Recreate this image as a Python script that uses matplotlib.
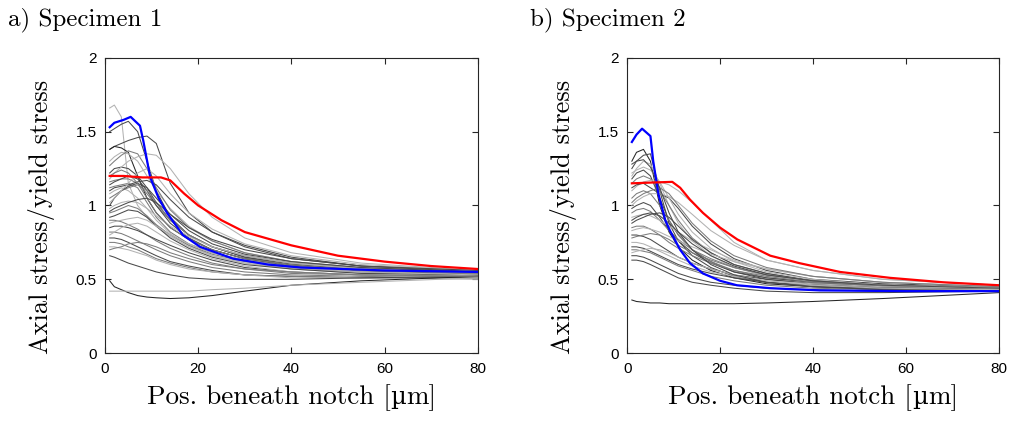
import numpy as np
import matplotlib
matplotlib.use("Agg")
import matplotlib.pyplot as plt
from matplotlib.offsetbox import TextArea, HPacker, AnchoredOffsetbox

# common sample positions for the grey specimen curves [um]
xs = [1, 2, 3.5, 5, 7, 9, 11, 14, 18, 23, 30, 40, 55, 80]

# specimen 1 - individual grain curves
spec1_grey = [
    [1.66, 1.68, 1.60, 1.15, 1.00, 0.92, 0.86, 0.79, 0.72, 0.66, 0.61, 0.57, 0.54, 0.53],
    [1.50, 1.52, 1.55, 1.57, 1.50, 1.30, 1.10, 0.92, 0.80, 0.72, 0.65, 0.60, 0.57, 0.55],
    [1.38, 1.40, 1.42, 1.44, 1.46, 1.47, 1.42, 1.15, 0.95, 0.82, 0.72, 0.64, 0.59, 0.56],
    [1.38, 1.40, 1.39, 1.36, 1.20, 1.05, 0.95, 0.85, 0.77, 0.70, 0.64, 0.60, 0.56, 0.54],
    [1.30, 1.33, 1.36, 1.35, 1.30, 1.20, 1.10, 0.98, 0.86, 0.76, 0.68, 0.62, 0.57, 0.55],
    [1.27, 1.30, 1.34, 1.37, 1.35, 1.25, 1.12, 0.97, 0.85, 0.76, 0.68, 0.62, 0.58, 0.55],
    [1.22, 1.25, 1.26, 1.25, 1.20, 1.12, 1.02, 0.90, 0.80, 0.72, 0.65, 0.60, 0.56, 0.54],
    [1.18, 1.22, 1.26, 1.30, 1.33, 1.35, 1.34, 1.25, 1.08, 0.92, 0.78, 0.68, 0.61, 0.56],
    [1.16, 1.17, 1.18, 1.18, 1.15, 1.08, 1.00, 0.90, 0.80, 0.72, 0.66, 0.61, 0.57, 0.55],
    [1.14, 1.16, 1.18, 1.20, 1.18, 1.10, 1.00, 0.88, 0.78, 0.70, 0.64, 0.59, 0.56, 0.54],
    [1.12, 1.13, 1.14, 1.15, 1.12, 1.02, 0.92, 0.82, 0.74, 0.68, 0.63, 0.59, 0.56, 0.54],
    [1.10, 1.12, 1.13, 1.14, 1.16, 1.17, 1.14, 1.04, 0.92, 0.82, 0.73, 0.65, 0.59, 0.55],
    [1.08, 1.10, 1.12, 1.10, 1.05, 0.98, 0.90, 0.81, 0.73, 0.66, 0.61, 0.57, 0.55, 0.53],
    [1.05, 1.07, 1.10, 1.12, 1.14, 1.10, 1.02, 0.90, 0.80, 0.72, 0.66, 0.61, 0.57, 0.55],
    [1.00, 1.05, 1.10, 1.13, 1.15, 1.12, 1.05, 0.94, 0.83, 0.74, 0.67, 0.62, 0.58, 0.55],
    [0.98, 1.00, 1.02, 1.03, 1.02, 0.98, 0.93, 0.86, 0.79, 0.72, 0.66, 0.61, 0.57, 0.54],
    [0.95, 0.96, 0.98, 1.00, 0.98, 0.93, 0.87, 0.80, 0.73, 0.67, 0.62, 0.58, 0.55, 0.53],
    [0.92, 0.93, 0.95, 0.97, 0.96, 0.92, 0.86, 0.78, 0.71, 0.65, 0.60, 0.57, 0.54, 0.53],
    [0.90, 0.90, 0.89, 0.87, 0.84, 0.80, 0.76, 0.71, 0.66, 0.61, 0.57, 0.54, 0.53, 0.52],
    [0.88, 0.89, 0.90, 0.91, 0.92, 0.90, 0.86, 0.80, 0.74, 0.68, 0.63, 0.58, 0.55, 0.53],
    [0.85, 0.86, 0.86, 0.85, 0.83, 0.80, 0.77, 0.73, 0.68, 0.63, 0.58, 0.55, 0.53, 0.52],
    [0.82, 0.82, 0.81, 0.79, 0.76, 0.73, 0.70, 0.66, 0.62, 0.58, 0.55, 0.53, 0.52, 0.51],
    [0.80, 0.82, 0.85, 0.87, 0.88, 0.86, 0.82, 0.76, 0.70, 0.64, 0.59, 0.55, 0.53, 0.52],
    [0.78, 0.78, 0.77, 0.75, 0.72, 0.69, 0.66, 0.62, 0.59, 0.56, 0.53, 0.52, 0.51, 0.51],
    [0.75, 0.75, 0.74, 0.72, 0.70, 0.67, 0.64, 0.61, 0.58, 0.55, 0.53, 0.52, 0.51, 0.51],
    [0.72, 0.72, 0.71, 0.70, 0.68, 0.66, 0.63, 0.60, 0.57, 0.55, 0.53, 0.51, 0.51, 0.50],
    [0.66, 0.65, 0.63, 0.61, 0.59, 0.57, 0.55, 0.53, 0.51, 0.50, 0.50, 0.50, 0.51, 0.52],
    [0.49, 0.45, 0.43, 0.41, 0.39, 0.38, 0.375, 0.37, 0.375, 0.39, 0.42, 0.46, 0.49, 0.52],
    [0.42, 0.42, 0.42, 0.42, 0.42, 0.42, 0.42, 0.42, 0.42, 0.43, 0.44, 0.46, 0.48, 0.51],
    [1.20, 1.22, 1.24, 1.22, 1.15, 1.05, 0.95, 0.85, 0.77, 0.70, 0.64, 0.60, 0.56, 0.54],
    [1.02, 1.05, 1.10, 1.15, 1.22, 1.25, 1.20, 1.08, 0.95, 0.84, 0.74, 0.66, 0.60, 0.56],
    [0.96, 0.98, 1.00, 1.02, 1.04, 1.05, 1.02, 0.94, 0.85, 0.77, 0.70, 0.64, 0.59, 0.56],
    [0.70, 0.71, 0.72, 0.74, 0.75, 0.74, 0.72, 0.68, 0.64, 0.60, 0.57, 0.55, 0.53, 0.52],
]
spec1_shade = ["l", "d", "d", "k", "l", "m", "d", "l", "m", "d", "m", "d", "l", "m",
               "d", "l", "m", "d", "m", "l", "d", "m", "l", "d", "m", "l", "d", "k",
               "l", "m", "l", "d", "m"]

spec1_blue_x = [1, 2, 4, 5.5, 7.5, 8.2, 9.7, 11.5, 13.3, 16.7, 20.4, 27.5, 35, 42, 60, 80]
spec1_blue_y = [1.53, 1.56, 1.58, 1.60, 1.54, 1.44, 1.19, 1.05, 0.95, 0.80, 0.72, 0.64, 0.60, 0.58, 0.56, 0.55]
spec1_red_x = [1, 4, 8, 12, 14, 17, 20, 25, 30, 40, 50, 60, 70, 80]
spec1_red_y = [1.20, 1.20, 1.19, 1.19, 1.17, 1.08, 1.00, 0.90, 0.82, 0.73, 0.66, 0.62, 0.59, 0.57]

# specimen 2
spec2_grey = [
    [1.30, 1.36, 1.38, 1.30, 1.00, 0.82, 0.72, 0.63, 0.56, 0.51, 0.47, 0.45, 0.43, 0.42],
    [1.25, 1.30, 1.34, 1.35, 1.10, 0.88, 0.76, 0.66, 0.58, 0.52, 0.48, 0.45, 0.44, 0.43],
    [1.20, 1.25, 1.30, 1.28, 1.15, 1.00, 0.88, 0.76, 0.66, 0.58, 0.52, 0.48, 0.45, 0.43],
    [1.18, 1.22, 1.24, 1.20, 1.05, 0.90, 0.80, 0.70, 0.62, 0.55, 0.50, 0.47, 0.45, 0.43],
    [1.15, 1.18, 1.20, 1.18, 1.10, 1.00, 0.90, 0.78, 0.68, 0.60, 0.54, 0.49, 0.46, 0.44],
    [1.10, 1.13, 1.16, 1.17, 1.16, 1.14, 1.10, 1.02, 0.90, 0.75, 0.63, 0.56, 0.50, 0.46],
    [1.12, 1.14, 1.15, 1.12, 1.08, 1.05, 0.98, 0.86, 0.74, 0.64, 0.56, 0.50, 0.47, 0.45],
    [1.05, 1.08, 1.10, 1.08, 1.00, 0.90, 0.80, 0.70, 0.62, 0.56, 0.51, 0.48, 0.45, 0.44],
    [1.00, 1.03, 1.06, 1.08, 1.08, 1.06, 1.02, 0.94, 0.83, 0.73, 0.63, 0.56, 0.50, 0.46],
    [0.98, 1.00, 1.02, 1.00, 0.92, 0.83, 0.76, 0.68, 0.61, 0.55, 0.51, 0.48, 0.46, 0.44],
    [0.95, 0.97, 0.98, 0.96, 0.90, 0.83, 0.77, 0.70, 0.64, 0.58, 0.53, 0.49, 0.46, 0.44],
    [0.92, 0.93, 0.94, 0.93, 0.90, 0.86, 0.82, 0.76, 0.70, 0.63, 0.57, 0.52, 0.48, 0.45],
    [0.88, 0.90, 0.92, 0.94, 0.95, 0.92, 0.86, 0.77, 0.68, 0.60, 0.54, 0.49, 0.46, 0.44],
    [0.85, 0.86, 0.86, 0.84, 0.80, 0.75, 0.71, 0.66, 0.61, 0.56, 0.52, 0.48, 0.46, 0.44],
    [0.83, 0.84, 0.85, 0.84, 0.82, 0.79, 0.76, 0.72, 0.67, 0.62, 0.57, 0.52, 0.48, 0.45],
    [0.80, 0.80, 0.79, 0.77, 0.73, 0.69, 0.65, 0.61, 0.57, 0.53, 0.50, 0.47, 0.45, 0.44],
    [0.78, 0.79, 0.80, 0.81, 0.80, 0.77, 0.73, 0.68, 0.63, 0.58, 0.53, 0.49, 0.46, 0.44],
    [0.75, 0.75, 0.74, 0.72, 0.69, 0.66, 0.63, 0.59, 0.55, 0.52, 0.49, 0.47, 0.45, 0.44],
    [0.72, 0.72, 0.71, 0.69, 0.66, 0.63, 0.60, 0.57, 0.54, 0.51, 0.48, 0.46, 0.44, 0.43],
    [0.70, 0.70, 0.69, 0.68, 0.65, 0.62, 0.59, 0.56, 0.52, 0.49, 0.46, 0.44, 0.43, 0.43],
    [0.66, 0.66, 0.65, 0.63, 0.60, 0.57, 0.54, 0.51, 0.48, 0.46, 0.44, 0.43, 0.42, 0.42],
    [0.63, 0.63, 0.62, 0.60, 0.57, 0.54, 0.51, 0.48, 0.46, 0.44, 0.42, 0.41, 0.41, 0.42],
    [0.36, 0.35, 0.345, 0.34, 0.34, 0.335, 0.335, 0.335, 0.335, 0.335, 0.34, 0.35, 0.37, 0.41],
    [1.22, 1.24, 1.26, 1.24, 1.16, 1.05, 0.94, 0.82, 0.71, 0.62, 0.55, 0.50, 0.46, 0.44],
    [1.02, 1.05, 1.08, 1.10, 1.12, 1.08, 1.00, 0.88, 0.76, 0.66, 0.58, 0.52, 0.48, 0.45],
    [0.90, 0.92, 0.94, 0.95, 0.93, 0.88, 0.82, 0.74, 0.66, 0.59, 0.53, 0.49, 0.46, 0.44],
    [0.68, 0.69, 0.70, 0.71, 0.70, 0.68, 0.65, 0.61, 0.57, 0.53, 0.49, 0.46, 0.44, 0.43],
    [1.28, 1.30, 1.31, 1.26, 1.12, 0.95, 0.82, 0.70, 0.60, 0.53, 0.48, 0.45, 0.43, 0.42],
]
spec2_shade = ["k", "d", "l", "d", "m", "l", "d", "m", "l", "d", "m", "l", "d", "m",
               "l", "d", "m", "l", "d", "m", "d", "d", "k", "l", "m", "d", "l", "d"]

spec2_blue_x = [1, 2, 3.2, 5, 5.6, 6.7, 8.2, 9.2, 11.4, 13.5, 16.3, 20, 23.6, 30.8, 41.5, 60, 80]
spec2_blue_y = [1.43, 1.48, 1.52, 1.47, 1.30, 1.08, 0.90, 0.83, 0.70, 0.61, 0.54, 0.49, 0.46, 0.44, 0.425, 0.42, 0.42]
spec2_red_x = [1, 5, 9.7, 11.4, 13.5, 16.3, 20, 23.7, 30.8, 37, 45.8, 56.6, 68, 80]
spec2_red_y = [1.15, 1.155, 1.16, 1.12, 1.04, 0.95, 0.85, 0.77, 0.66, 0.61, 0.55, 0.51, 0.48, 0.46]

titles = ["a) Specimen 1", "b) Specimen 2"]
xticks = [0, 20, 40, 60, 80]
yticks = [0, 0.5, 1, 1.5, 2]
ytick_labels = ["0", "0.5", "1", "1.5", "2"]

shades = {"k": "#262626", "d": "#4a4a4a", "m": "#7c7c7c", "l": "#b2b2b2"}
serif = ["cmr10", "DejaVu Serif"]

fig = plt.figure(figsize=(10.1, 4.25), dpi=100)
ax1 = fig.add_axes([0.104, 0.169, 0.369, 0.695])
ax2 = fig.add_axes([0.621, 0.169, 0.368, 0.695])

panels = [
    (ax1, spec1_grey, spec1_shade, spec1_blue_x, spec1_blue_y, spec1_red_x, spec1_red_y),
    (ax2, spec2_grey, spec2_shade, spec2_blue_x, spec2_blue_y, spec2_red_x, spec2_red_y),
]

for ax, grey, shade, bx, by, rx, ry in panels:
    for ys, s in zip(grey, shade):
        ax.plot(xs, ys, color=shades[s], lw=0.75)
    ax.plot(bx, by, color="#0000ff", lw=1.6)
    ax.plot(rx, ry, color="#ff0000", lw=1.6)

    ax.set_xlim(0, 80)
    ax.set_ylim(0, 2)
    ax.set_xticks(xticks)
    ax.set_yticks(yticks)
    ax.set_yticklabels(ytick_labels)
    ax.tick_params(direction="in", length=4, width=0.8, top=True, right=True,
                   labelsize=11, colors="#262626", pad=6)
    for lbl in ax.get_xticklabels() + ax.get_yticklabels():
        lbl.set_family("Liberation Sans")
        lbl.set_color("black")
    for sp in ax.spines.values():
        sp.set_color("#262626")
        sp.set_linewidth(0.8)
    ax.set_ylabel("Axial stress/yield stress", family=serif, fontsize=19)
    ax.yaxis.set_label_coords(-0.135, 0.46)

    # x label: cmr10 has no micro sign, so the mu comes from DejaVu Serif
    parts = [
        TextArea("Pos. beneath notch [", textprops=dict(family="cmr10", size=19.5)),
        TextArea("\u00b5", textprops=dict(family="DejaVu Serif", size=17.5)),
        TextArea("m]", textprops=dict(family="cmr10", size=19.5)),
    ]
    box = HPacker(children=parts, align="baseline", pad=0, sep=0)
    xlab = AnchoredOffsetbox(loc="upper center", child=box, pad=0, borderpad=0,
                             frameon=False, bbox_to_anchor=(0.5, -0.105),
                             bbox_transform=ax.transAxes)
    ax.add_artist(xlab)

fig.text(0.008, 0.953, titles[0], family=serif, fontsize=18, va="center", ha="left")
fig.text(0.525, 0.953, titles[1], family=serif, fontsize=18, va="center", ha="left")

fig.savefig("out.png", dpi=100)
